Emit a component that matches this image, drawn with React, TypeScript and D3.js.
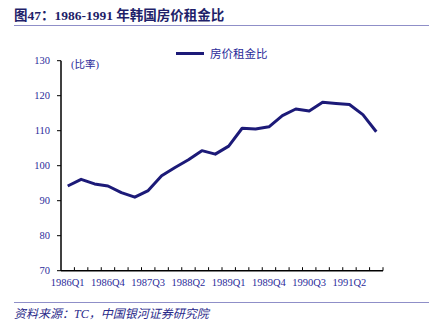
import React from "react";
import * as d3 from "d3";

const quarters: string[] = [];
const years = [1986, 1987, 1988, 1989, 1990, 1991];
years.forEach((y) => [1, 2, 3, 4].forEach((q) => quarters.push(`${y}Q${q}`)));

const ratio = [
  94.2, 96.1, 94.8, 94.2, 92.3, 91.0, 92.9, 97.1, 99.5, 101.7, 104.3, 103.3,
  105.6, 110.7, 110.5, 111.1, 114.3, 116.2, 115.6, 118.1, 117.8, 117.5, 114.6, 109.7,
];

const yTicks = [70, 80, 90, 100, 110, 120, 130];
const xLabelEvery = 3;

const W = 429;
const H = 334;
const left = 61;
const right = 383;
const top = 60.7;
const bottom = 270.7;

const serif = "'Times New Roman', 'Liberation Serif', 'Noto Sans CJK SC', serif";
const navy = "#1c1a78";
const labelColor = "#2b2b9a";
const rule = "#8f8fc8";

export default function App() {
  const x = d3.scaleBand<string>().domain(quarters).range([left, right]);
  const y = d3.scaleLinear().domain([70, 130]).range([bottom, top]);
  const line = d3
    .line<number>()
    .x((_, i) => (x(quarters[i]) as number) + x.bandwidth() / 2)
    .y((d) => y(d));

  return (
    <svg
      width={W}
      height={H}
      style={{ position: "absolute", left: 0, top: 0, background: "#fff" }}
      fontFamily={serif}
    >
      <text x={14} y={20} fontSize={13.5} fontWeight="bold" fill="#1f1f6a">
        图47：1986-1991 年韩国房价租金比
      </text>
      <line x1={14} x2={W} y1={25.5} y2={25.5} stroke={rule} strokeWidth={1.2} />

      {/* legend */}
      <line x1={176} x2={204} y1={53.5} y2={53.5} stroke={navy} strokeWidth={3} />
      <text x={210} y={57.5} fontSize={11.5} fill={labelColor}>
        房价租金比
      </text>

      <text x={71} y={68} fontSize={10.5} fill={labelColor}>
        (比率)
      </text>

      {/* y axis */}
      <line x1={left} x2={left} y1={top} y2={bottom} stroke="#000" strokeWidth={1.5} />
      {yTicks.map((t) => (
        <g key={t}>
          <line x1={left - 4} x2={left} y1={y(t)} y2={y(t)} stroke="#000" strokeWidth={1} />
          <text
            x={left - 11}
            y={y(t)}
            dy="0.35em"
            textAnchor="end"
            fontSize={10.5}
            fill={labelColor}
          >
            {t}
          </text>
        </g>
      ))}

      {/* x axis */}
      <line x1={left} x2={right} y1={bottom} y2={bottom} stroke="#000" strokeWidth={1.5} />
      {quarters.map((q) => (
        <line
          key={q}
          x1={(x(q) as number) + x.bandwidth()}
          x2={(x(q) as number) + x.bandwidth()}
          y1={bottom}
          y2={bottom - 3.5}
          stroke="#000"
          strokeWidth={1}
        />
      ))}
      {quarters.map((q, i) =>
        i % xLabelEvery === 0 ? (
          <text
            key={q}
            x={(x(q) as number) + x.bandwidth() / 2}
            y={bottom + 15}
            textAnchor="middle"
            fontSize={10.5}
            fill={labelColor}
          >
            {q}
          </text>
        ) : null
      )}

      <path d={line(ratio) || ""} fill="none" stroke={navy} strokeWidth={3} strokeLinejoin="round" />

      <line x1={14} x2={W} y1={302.5} y2={302.5} stroke={rule} strokeWidth={1.2} />
      <text x={14} y={318} fontSize={12} fontStyle="italic" fill="#2a2a8a">
        资料来源：TC，中国银河证券研究院
      </text>
    </svg>
  );
}
